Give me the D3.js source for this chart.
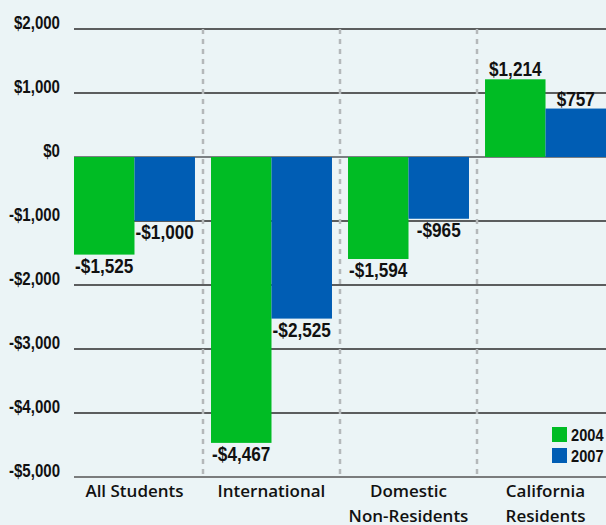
<!DOCTYPE html>
<html>
<head>
<meta charset="utf-8">
<script src="https://cdn.jsdelivr.net/npm/d3@7"></script>
<style>
  html, body { margin: 0; padding: 0; background: #ebf4f6; }
  svg { display: block; }
  .tick-label { font-family: "Liberation Sans", Arial, sans-serif; font-weight: bold; font-size: 17.5px; fill: #111; }
  .val-label { font-family: "Liberation Sans", Arial, sans-serif; font-weight: bold; font-size: 20px; fill: #111; }
  .cat-label { font-family: "Open Sans", Lato, sans-serif; font-weight: 600; font-size: 17px; fill: #111; }
</style>
</head>
<body>
<div id="chart"></div>
<script>
// data
var categories = ["All Students", "International", "Domestic|Non-Residents", "California|Residents"];
var years = ["2004", "2007"];
var values2004 = [-1525, -4467, -1594, 1214];
var values2007 = [-1000, -2525, -965, 757];
var tickValues = [2000, 1000, 0, -1000, -2000, -3000, -4000, -5000];

var colorArr = ["#00bc24", "#005db4"];

var width = 606, height = 525;
var margin = {top: 29, right: 0, bottom: 48, left: 74};

var svg = d3.select("#chart").append("svg")
    .attr("width", width)
    .attr("height", height);

var x = d3.scaleBand()
    .domain(categories)
    .range([margin.left, width - margin.right])
    .paddingInner(0.117)
    .paddingOuter(0);

var xInner = d3.scaleBand()
    .domain(years)
    .range([0, x.bandwidth()])
    .padding(0);

var y = d3.scaleLinear()
    .domain([-5000, 2000])
    .range([height - margin.bottom, margin.top]);

var fmt = function(v){
    var s = "$" + d3.format(",d")(Math.abs(v));
    return v < 0 ? "-" + s : s;
};

// condensed look: squeeze text horizontally
function place(px, py, sx){
    return "translate(" + px + "," + py + ") scale(" + sx + ",1)";
}

// gridlines
svg.append("g").selectAll("line")
    .data(tickValues)
    .enter().append("line")
    .attr("x1", margin.left)
    .attr("x2", width - margin.right)
    .attr("y1", function(d){ return y(d); })
    .attr("y2", function(d){ return y(d); })
    .attr("stroke", function(d){ return d === 0 ? "#7a7f82" : (d === -5000 ? "#555" : "#2b2b2b"); })
    .attr("stroke-width", function(d){ return d === 0 ? 2 : 1.6; });

svg.append("g").selectAll("text")
    .data(tickValues)
    .enter().append("text")
    .attr("class", "tick-label")
    .attr("transform", function(d){ return place(60, y(d), 0.86); })
    .attr("text-anchor", "end")
    .text(fmt);

// dashed separators between groups
var seps = categories.slice(1);
svg.append("g").selectAll("line")
    .data(seps)
    .enter().append("line")
    .attr("x1", function(d){ return x(d) - x.step() * x.paddingInner() / 2; })
    .attr("x2", function(d){ return x(d) - x.step() * x.paddingInner() / 2; })
    .attr("y1", y(2000))
    .attr("y2", y(-5000))
    .attr("stroke", "#b4b8ba")
    .attr("stroke-width", 2.5)
    .attr("stroke-dasharray", "5,5");

// bars
var rows = [];
categories.forEach(function(c, i){
    rows.push({cat: c, year: "2004", value: values2004[i]});
    rows.push({cat: c, year: "2007", value: values2007[i]});
});

var bars = svg.append("g").selectAll("g")
    .data(rows)
    .enter().append("g");

bars.append("rect")
    .attr("x", function(d){ return x(d.cat) + xInner(d.year); })
    .attr("width", xInner.bandwidth())
    .attr("y", function(d){ return y(Math.max(0, d.value)); })
    .attr("height", function(d){ return Math.abs(y(d.value) - y(0)); })
    .attr("fill", function(d){ return colorArr[years.indexOf(d.year)]; });

bars.append("text")
    .attr("class", "val-label")
    .attr("text-anchor", "middle")
    .attr("transform", function(d){
        var cx = x(d.cat) + xInner(d.year) + xInner.bandwidth() / 2;
        var cy = d.value >= 0 ? y(d.value) - 3 : y(d.value) + 18;
        return place(cx, cy, 0.86);
    })
    .text(function(d){ return fmt(d.value); });

// category labels
var cat = svg.append("g").selectAll("text")
    .data(categories)
    .enter().append("text")
    .attr("class", "cat-label")
    .attr("text-anchor", "middle")
    .attr("x", function(d){ return x(d) + x.bandwidth() / 2; })
    .attr("y", 497);
cat.selectAll("tspan")
    .data(function(d){ return d.split("|"); })
    .enter().append("tspan")
    .attr("x", function(){ var p = d3.select(this.parentNode).datum(); return x(p) + x.bandwidth() / 2; })
    .attr("dy", function(d, i){ return i === 0 ? 0 : 25; })
    .text(function(d){ return d; });

// legend
var legend = svg.append("g").selectAll("g")
    .data(years)
    .enter().append("g")
    .attr("transform", function(d, i){ return "translate(552," + (427 + i * 21) + ")"; });
legend.append("rect")
    .attr("width", 15)
    .attr("height", 15)
    .attr("fill", function(d, i){ return colorArr[i]; });
legend.append("text")
    .attr("class", "tick-label")
    .attr("transform", place(19, 14, 0.86))
    .style("font-size", "17px")
    .text(function(d){ return d; });
</script>
</body>
</html>
